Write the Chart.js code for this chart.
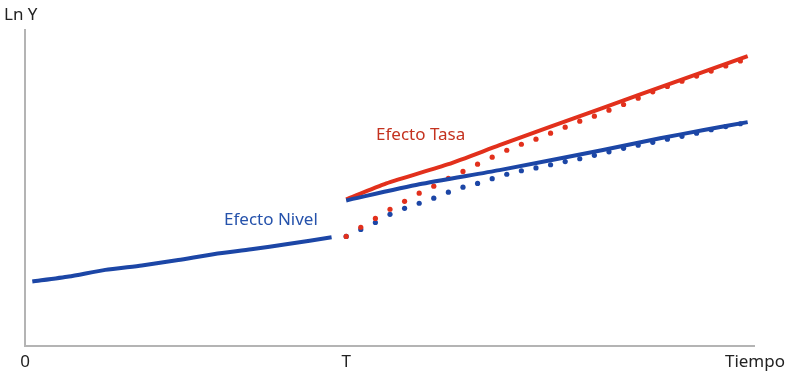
<!DOCTYPE html>
<html>
<head>
<meta charset="utf-8">
<script src="https://cdn.jsdelivr.net/npm/chart.js@4.4.0/dist/chart.umd.min.js"></script>
<style>
  html, body { margin: 0; padding: 0; background: #fff; }
  #wrap { width: 791px; height: 373px; }
</style>
</head>
<body>
<div id="wrap"><canvas id="myChart"></canvas></div>
<script>
// momento del shock
const T = 44;
const tickLabels = { 0: "0", 44: "T", 100: "Tiempo" };

// trayectoria antes de T
const tAntes = [1, 6, 11, 16, 21, 26, 31, 36, 42];
const yAntes = [20.3, 21.9, 24.0, 25.4, 27.1, 29.0, 30.5, 32.2, 34.3];

// efecto tasa (linea roja)
const tTasa = [44, 49.5, 58, 65, 79, 89, 99];
const yTasa = [46.3, 51.4, 57.5, 63.5, 75.2, 83.5, 91.7];

// efecto nivel (linea azul)
const tNivel = [44, 54, 65, 79, 87, 93, 99];
const yNivel = [46.0, 51.1, 55.6, 61.9, 65.7, 68.3, 70.8];

// transiciones punteadas
const tPuntos = [44, 46, 48, 50, 52, 54, 56, 58, 60, 62, 64, 66, 68, 70,
                 72, 74, 76, 78, 80, 82, 84, 86, 88, 90, 92, 94, 96, 98];
const yPuntosTasa = [34.6, 37.5, 40.3, 43.2, 45.7, 48.3, 50.5, 53.0, 55.2, 57.5,
                     59.7, 61.9, 63.8, 65.4, 67.3, 69.2, 71.1, 72.7, 74.6, 76.4,
                     78.4, 80.4, 82.1, 83.8, 85.4, 87.0, 88.6, 90.2];
const yPuntosNivel = [34.6, 36.8, 39.0, 41.6, 43.5, 45.1, 46.7, 48.6, 50.2, 51.4,
                      52.9, 54.3, 55.4, 56.3, 57.3, 58.3, 59.2, 60.3, 61.4, 62.5,
                      63.5, 64.4, 65.4, 66.3, 67.3, 68.4, 69.4, 70.3];

const rojo = "#e2301c";
const azul = "#1c46a6";

function pares(xs, ys) {
    return xs.map((x, i) => ({ x: x, y: ys[i] }));
}

const textos = {
    id: "textos",
    afterDraw(chart) {
        const ctx = chart.ctx;
        ctx.save();
        ctx.textBaseline = "alphabetic";
        ctx.textAlign = "left";
        ctx.font = "17px 'Noto Sans'";
        ctx.fillStyle = "#222";
        ctx.fillText("Ln Y", 4, 20);
        ctx.fillStyle = "#c4321f";
        ctx.fillText("Efecto Tasa", 376, 140);
        ctx.fillStyle = "#2552ab";
        ctx.fillText("Efecto Nivel", 224, 225);
        ctx.restore();
    }
};

const config = {
    type: "scatter",
    data: {
        datasets: [
            {
                data: pares(tAntes, yAntes),
                showLine: true, borderColor: azul, borderWidth: 4,
                pointRadius: 0, tension: 0.2, order: 1
            },
            {
                data: pares(tTasa, yTasa),
                showLine: true, borderColor: rojo, borderWidth: 4,
                pointRadius: 0, tension: 0.2, order: 1
            },
            {
                data: pares(tNivel, yNivel),
                showLine: true, borderColor: azul, borderWidth: 4,
                pointRadius: 0, tension: 0.2, order: 0
            },
            {
                data: pares(tPuntos, yPuntosTasa),
                showLine: false, pointRadius: 2.6, borderWidth: 0,
                backgroundColor: rojo, order: 2
            },
            {
                data: pares(tPuntos, yPuntosNivel),
                showLine: false, pointRadius: 2.6, borderWidth: 0,
                backgroundColor: azul, order: 3
            }
        ]
    },
    options: {
        responsive: true,
        maintainAspectRatio: false,
        animation: false,
        layout: { padding: { left: 25, right: 31, top: 30, bottom: -5 } },
        plugins: { legend: { display: false }, tooltip: { enabled: false } },
        scales: {
            x: {
                type: "linear", min: 0, max: 100,
                grid: { display: false, drawTicks: false },
                border: { display: true, color: "#b4b4b4", width: 2 },
                afterBuildTicks: (axis) => {
                    axis.ticks = [0, T, 100].map(v => ({ value: v }));
                },
                ticks: {
                    padding: 6, color: "#222", maxRotation: 0, autoSkip: false,
                    font: { family: "'Noto Sans'", size: 17 },
                    callback: (v) => tickLabels[v]
                }
            },
            y: {
                min: 0, max: 100,
                grid: { display: false, drawTicks: false },
                border: { display: true, color: "#b4b4b4", width: 2 },
                ticks: { display: false }
            }
        }
    },
    plugins: [textos]
};

window.onload = function () {
    new Chart(document.getElementById("myChart"), config);
};
</script>
</body>
</html>
